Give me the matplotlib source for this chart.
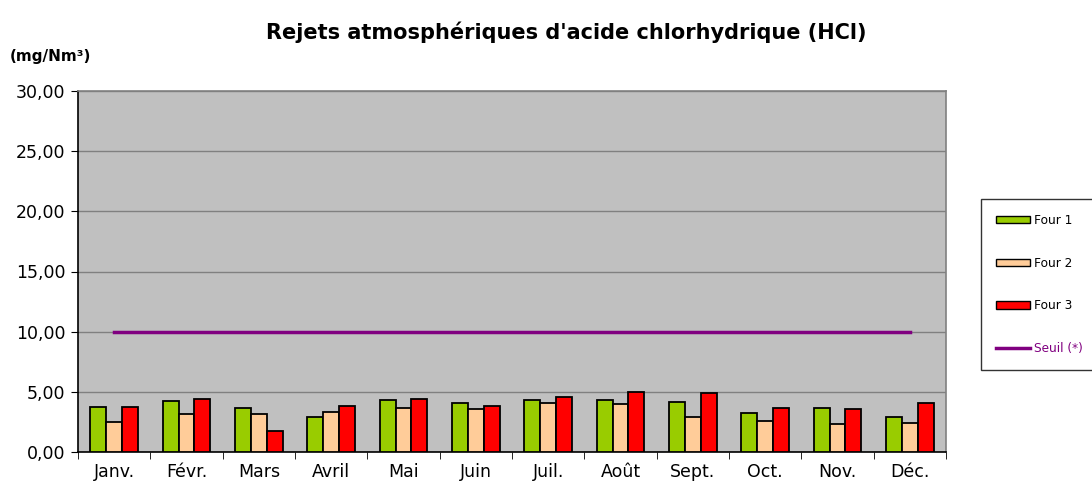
import matplotlib
matplotlib.use("Agg")
import matplotlib.pyplot as plt
import numpy as np
from matplotlib.lines import Line2D
from matplotlib.patches import Patch

plt.rcParams['font.family'] = ['DejaVu Sans']

months = ["Janv.", "Févr.", "Mars", "Avril", "Mai", "Juin", "Juil.", "Août", "Sept.", "Oct.", "Nov.", "Déc."]
four1 = [3.78, 4.25, 3.69, 2.92, 4.31, 4.06, 4.28, 4.28, 4.19, 3.25, 3.64, 2.94]
four2 = [2.47, 3.17, 3.19, 3.31, 3.64, 3.61, 4.11, 4.03, 2.89, 2.58, 2.33, 2.42]
four3 = [3.72, 4.39, 1.72, 3.83, 4.44, 3.86, 4.56, 4.97, 4.92, 3.69, 3.61, 4.06]
seuil = [10] * 12
yticks = [0, 5, 10, 15, 20, 25, 30]
ytick_labels = ["0,00", "5,00", "10,00", "15,00", "20,00", "25,00", "30,00"]

fig = plt.figure(figsize=(10.92, 4.84), dpi=100)
ax = fig.add_axes([78/1092, 1-452/484, (946-78)/1092, (452-91)/484])
ax.set_facecolor('#C0C0C0')

x = np.arange(len(months))
w = 0.22
kw = dict(edgecolor='black', linewidth=1.3, zorder=3)
ax.bar(x - w, four1, w, color='#99CC00', **kw)
ax.bar(x, four2, w, color='#FFCC99', **kw)
ax.bar(x + w, four3, w, color='#FF0000', **kw)
ax.plot(x, seuil, color='#800080', linewidth=2.5, zorder=4)

ax.set_xlim(-0.5, len(months) - 0.5)
ax.set_ylim(0, 30)
ax.set_yticks(yticks)
ax.set_yticklabels(ytick_labels, fontsize=12.5)
ax.yaxis.grid(True, color='#808080', linewidth=1, zorder=0)
ax.set_axisbelow(True)
ax.set_xticks(x)
ax.set_xticklabels(months, fontsize=12.5)
ax.set_xticks(np.arange(-0.5, len(months), 1), minor=True)
ax.tick_params(axis='x', which='major', length=0, pad=8)
ax.tick_params(axis='x', which='minor', length=5, direction='out', color='black')
ax.tick_params(axis='y', length=5, direction='out', color='black', pad=4)
for s in ['top', 'right']:
    ax.spines[s].set_color('#808080')
    ax.spines[s].set_linewidth(1.2)
for s in ['left', 'bottom']:
    ax.spines[s].set_color('black')
    ax.spines[s].set_linewidth(1.2)

fig.text(566/1092, 1-32/484, "Rejets atmosphériques d'acide chlorhydrique (HCl)",
         ha='center', va='center', fontsize=15, fontweight='bold')
fig.text(10/1092, 1-57/484, "(mg/Nm³)", ha='left', va='center', fontsize=11, fontweight='bold')

handles = [Patch(facecolor='#99CC00', edgecolor='black'),
           Patch(facecolor='#FFCC99', edgecolor='black'),
           Patch(facecolor='#FF0000', edgecolor='black'),
           Line2D([0], [0], color='#800080', linewidth=2.5)]
labels = ["Four 1", "Four 2", "Four 3", "Seuil (*)"]
leg = fig.legend(handles, labels, loc='upper left', bbox_to_anchor=(981/1092, 1-199/484),
                 fontsize=8.7, frameon=True, fancybox=False, edgecolor='black',
                 handlelength=2.8, handleheight=0.55, labelspacing=2.45, borderpad=1.25,
                 handletextpad=0.3, borderaxespad=0)
leg.get_frame().set_linewidth(1)
leg.get_texts()[3].set_color('#800080')

fig.savefig('out.png', dpi=100)
